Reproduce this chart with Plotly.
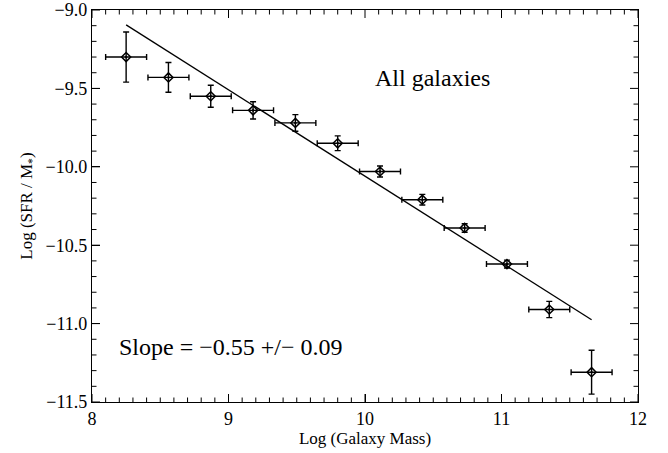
import numpy as np
import plotly.graph_objects as go

log_mass = [8.25, 8.56, 8.87, 9.18, 9.49, 9.80, 10.11, 10.42, 10.73, 11.04, 11.35, 11.66]
log_ssfr = [-9.30, -9.43, -9.55, -9.64, -9.72, -9.85, -10.03, -10.21, -10.39, -10.62, -10.91, -11.31]
ssfr_err = [0.16, 0.095, 0.07, 0.055, 0.053, 0.047, 0.035, 0.034, 0.027, 0.025, 0.052, 0.14]
mass_err = [0.15] * 12

fit_x = [8.25, 11.66]
fit_y = [-9.095, -10.975]

x_range = [8, 12]
y_range = [-11.5, -9.0]

font_family = "Liberation Serif"

# figure geometry (pixels) used to size the inward tick marks
plot_w, plot_h = 546.0, 392.0
maj_len, min_len = 8.0, 4.5
x_per_px = (x_range[1] - x_range[0]) / plot_w
y_per_px = (y_range[1] - y_range[0]) / plot_h

fig = go.Figure()

# inward tick marks on all four sides (major + minor)
tx, ty = [], []
for v in np.round(np.arange(x_range[0], x_range[1] + 1e-9, 0.1), 2):
    L = (maj_len if abs(v - round(v)) < 1e-6 else min_len) * y_per_px
    tx += [v, v, None, v, v, None]
    ty += [y_range[0], y_range[0] + L, None, y_range[1], y_range[1] - L, None]
for v in np.round(np.arange(y_range[0], y_range[1] + 1e-9, 0.1), 2):
    L = (maj_len if abs(v * 2 - round(v * 2)) < 1e-6 else min_len) * x_per_px
    tx += [x_range[0], x_range[0] + L, None, x_range[1], x_range[1] - L, None]
    ty += [v, v, None, v, v, None]
fig.add_trace(go.Scatter(x=tx, y=ty, mode="lines", line=dict(color="black", width=1),
                         hoverinfo="skip", showlegend=False))

fig.add_trace(go.Scatter(
    x=fit_x, y=fit_y, mode="lines",
    line=dict(color="black", width=1.3), showlegend=False))
fig.add_trace(go.Scatter(
    x=log_mass, y=log_ssfr, mode="markers",
    marker=dict(symbol="diamond-open-dot", size=7, color="black",
                line=dict(color="black", width=1.5)),
    error_x=dict(type="data", array=mass_err, color="black", thickness=1.4, width=3),
    error_y=dict(type="data", array=ssfr_err, color="black", thickness=1.4, width=3),
    showlegend=False))

fig.add_annotation(x=0.733, y=0.865, xref="paper", yref="paper", text="All galaxies",
                   showarrow=False, font=dict(family=font_family, size=24, color="black"))
fig.add_annotation(x=0.046, y=0.102, xref="paper", yref="paper", xanchor="left",
                   text="Slope = \u22120.55 +/\u2212 0.09",
                   showarrow=False, font=dict(family=font_family, size=24, color="black"))

fig.update_xaxes(range=x_range, tickmode="linear", tick0=8, dtick=1,
                 showline=True, linecolor="black", linewidth=1.3, mirror=True,
                 ticks="inside", ticklen=8, tickwidth=1, tickcolor="black",
                 showgrid=False, zeroline=False,
                 tickfont=dict(family=font_family, size=18, color="black"),
                 title=dict(text="Log (Galaxy Mass)", font=dict(family=font_family, size=17, color="black"), standoff=2))
fig.update_yaxes(range=y_range, tickmode="linear", tick0=-9.0, dtick=0.5, tickformat=".1f",
                 showline=True, linecolor="black", linewidth=1.3, mirror=True,
                 ticks="inside", ticklen=8, tickwidth=1, tickcolor="black",
                 showgrid=False, zeroline=False,
                 tickfont=dict(family=font_family, size=18, color="black"),
                 title=dict(text="Log (SFR / M<sub>*</sub>)", font=dict(family=font_family, size=17, color="black"), standoff=8))

fig.update_layout(
    width=668, height=453,
    margin=dict(l=92, r=30, t=10, b=51),
    plot_bgcolor="white", paper_bgcolor="white",
    template="none",
    font=dict(family=font_family, color="black"),
)

fig.write_html("out.html", config={"displayModeBar": False},
               post_script="document.body.style.margin='0px';")
